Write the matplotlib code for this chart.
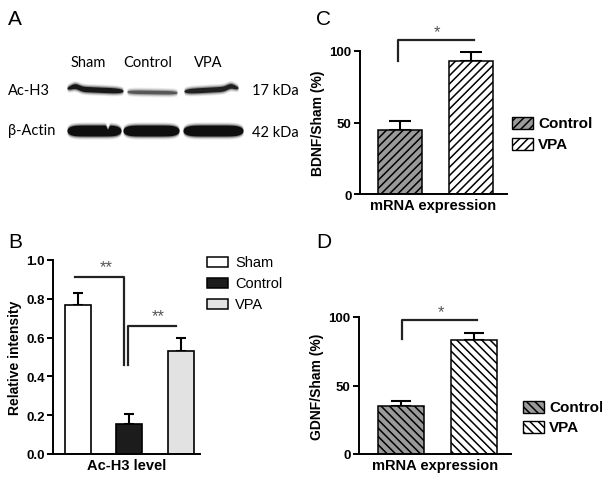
import numpy as np
import matplotlib
matplotlib.use("Agg")
import matplotlib.pyplot as plt
from matplotlib.patches import Rectangle

plt.rcParams['font.family'] = ['Liberation Sans', 'DejaVu Sans']
plt.rcParams['hatch.linewidth'] = 1.1

# ---------------- data ----------------
blot_lanes = ['Sham', 'Control', 'VPA']
blot_rows = ['Ac-H3', 'β-Actin']
blot_sizes = ['17 kDa', '42 kDa']
ach3_darkness = [0.95, 0.6, 0.9]
actin_darkness = [1.0, 1.0, 1.0]

b_groups = ['Sham', 'Control', 'VPA']
b_values = [0.77, 0.155, 0.53]
b_errors = [0.06, 0.05, 0.07]
b_yticks = [0.0, 0.2, 0.4, 0.6, 0.8, 1.0]

c_groups = ['Control', 'VPA']
c_values = [45, 93]
c_errors = [6, 6]

d_groups = ['Control', 'VPA']
d_values = [35, 83]
d_errors = [4, 5]
cd_yticks = [0, 50, 100]

W, H = 602, 481
fig = plt.figure(figsize=(W / 100, H / 100), dpi=100)


def rect(x0, y0, x1, y1):
    return [x0 / W, 1 - y1 / H, (x1 - x0) / W, (y1 - y0) / H]


# overlay axes in pixel coordinates
ov = fig.add_axes([0, 0, 1, 1], zorder=5)
ov.set_xlim(0, W)
ov.set_ylim(H, 0)
ov.axis('off')
ov.patch.set_alpha(0)

# ---------------- panel A: blot ----------------
def band(ax, cx, cy, w, h, dark, tilt=0.0, hump=0.0, hpos=0.0, notch=None):
    x = np.linspace(cx - w / 2, cx + w / 2, 400)
    u = (x - cx) / (w / 2)
    half = h / 2 * np.clip(1 - u ** 6, 0, 1) ** 0.5
    yc = cy + tilt * u + hump * np.exp(-((u - hpos) / 0.2) ** 2)
    top = yc - half
    if notch is not None:
        top = top + notch[1] * np.exp(-((u - notch[0]) / 0.05) ** 2)
    g = 0.06 + (1 - dark) * 0.7
    col = (g, g, g)
    on = (half > 0)
    for extra, a in [(3.0, 0.10), (2.0, 0.18), (1.0, 0.35), (0.0, 1.0)]:
        ax.fill_between(x, top - extra * on, yc + half + extra * on,
                        color=col, alpha=a, lw=0)


ach3_centers = [95, 152, 211]
ach3_widths = [56, 50, 54]
ach3_shape = [(1.2, -2.5, -0.72), (0.4, 0.0, 0.0), (-1.5, -2.5, 0.72)]
for i, d in enumerate(ach3_darkness):
    t, hm, hp = ach3_shape[i]
    band(ov, ach3_centers[i], 90.5 if i != 1 else 93, ach3_widths[i], 5.0 * d + 0.5, d,
         tilt=t, hump=hm, hpos=hp)

actin_centers = [94, 151, 213]
actin_widths = [54, 56, 60]
actin_notch = [(0.5, 4.0), None, None]
for i, d in enumerate(actin_darkness):
    band(ov, actin_centers[i], 131.5, actin_widths[i], 11, d, notch=actin_notch[i])

for i, lab in enumerate(blot_lanes):
    ov.text([88, 148, 208][i], 63, lab, family=['Lato', 'DejaVu Sans'], fontsize=10.5,
            ha='center', va='center')
for j, lab in enumerate(blot_rows):
    ov.text(8, [91, 131][j], lab, family=['Lato', 'DejaVu Sans'], fontsize=10.5,
            ha='left', va='center')
    ov.text(252, [91, 133][j], blot_sizes[j], family=['Lato', 'DejaVu Sans'], fontsize=10.5,
            ha='left', va='center')

# panel letters
for letter, (x, y) in zip('ABCD', [(8, 25), (8, 248), (316, 25), (316, 248)]):
    ov.text(x, y, letter, fontsize=15, ha='left', va='baseline')


def style_axes(ax):
    for s in ['top', 'right']:
        ax.spines[s].set_visible(False)
    for s in ['left', 'bottom']:
        ax.spines[s].set_linewidth(1.4)
    ax.tick_params(axis='y', direction='out', length=4, width=1.4, labelsize=9.5, pad=2)
    ax.tick_params(axis='x', length=0)
    for lab in ax.get_yticklabels():
        lab.set_fontweight('bold')


# ---------------- panel B ----------------
axB = fig.add_axes(rect(53, 261, 200, 455))
xb = np.arange(len(b_groups))
b_colors = ['white', '#1c1c1c', '#e2e2e2']
axB.errorbar(xb, b_values, yerr=[np.zeros(3), b_errors], fmt='none', ecolor='black',
             elinewidth=1.5, capsize=3.5, capthick=1.5, zorder=1)
axB.bar(xb, b_values, width=0.505, color=b_colors, edgecolor='black', linewidth=1.2, zorder=2)
axB.set_xlim(-0.485, 2.37)
axB.set_ylim(0, 1.0)
axB.set_yticks(b_yticks)
axB.set_yticklabels([f'{v:.1f}' for v in b_yticks])
axB.set_xticks([])
axB.set_ylabel('Relative intensity', fontsize=10, fontweight='bold', labelpad=3)
axB.set_xlabel('Ac-H3 level', fontsize=10.5, fontweight='bold', labelpad=3)
style_axes(axB)
# significance brackets
axB.plot([xb[0] - 0.05, xb[1] - 0.1, xb[1] - 0.1], [0.91, 0.91, 0.46], color='#222222',
         lw=1.6, clip_on=False, zorder=3)
axB.plot([xb[1] - 0.02, xb[1] - 0.02, xb[2] - 0.1], [0.46, 0.66, 0.66], color='#222222',
         lw=1.6, clip_on=False, zorder=3)
axB.text((xb[0] + xb[1]) / 2 + 0.05, 0.925, '**', fontsize=12, color='#555555', ha='center',
         va='bottom')
axB.text((xb[1] + xb[2]) / 2 + 0.05, 0.675, '**', fontsize=12, color='#555555', ha='center',
         va='bottom')

# legend B
for k, g in enumerate(b_groups):
    y = [263, 284, 305][k]
    ov.add_patch(Rectangle((207, y - 5), 21, 10, facecolor=b_colors[k], edgecolor='black', lw=1.1))
    ov.text(235, y, g, fontsize=10.5, ha='left', va='center')


# ---------------- panels C and D ----------------
def cd_panel(box, vals, errs, groups, hatch, ylabel, width, xlim, cap, bracket, legend_pos):
    ax = fig.add_axes(rect(*box))
    x = np.arange(len(groups))
    cols = ['#9a9a9a', 'white']
    ax.errorbar(x, vals, yerr=[np.zeros(len(x)), errs], fmt='none', ecolor='black',
                elinewidth=1.5, capsize=cap, capthick=1.5, zorder=1)
    ax.bar(x, vals, width=width, color=cols, edgecolor='black', linewidth=1.1, hatch=hatch,
           zorder=2)
    ax.set_xlim(*xlim)
    ax.set_ylim(0, 100)
    ax.set_yticks(cd_yticks)
    ax.set_xticks([])
    ax.set_ylabel(ylabel, fontsize=10, fontweight='bold', labelpad=3)
    ax.set_xlabel('mRNA expression', fontsize=10.5, fontweight='bold', labelpad=3)
    style_axes(ax)
    bx0, bx1, by, bdown, sy = bracket
    ax.plot([bx0, bx0, bx1], [bdown, by, by], color='#222222', lw=1.6, clip_on=False, zorder=3)
    ax.text((bx0 + bx1) / 2 + 0.02, sy, '*', fontsize=12, color='#555555', ha='center',
            va='bottom', clip_on=False)
    lx, ly = legend_pos
    for k, g in enumerate(groups):
        y = ly[k]
        ov.add_patch(Rectangle((lx, y - 6), 21, 12, facecolor=cols[k], edgecolor='black',
                               lw=1.0, hatch=hatch))
        ov.text(lx + 26, y, g, fontsize=11, fontweight='bold', ha='left', va='center')
    return ax


cd_panel((360, 52, 507, 195), c_values, c_errors, c_groups, '////', 'BDNF/Sham (%)',
         0.62, (-0.563, 1.507), 8.0, (-0.03, 1.04, 107.5, 93, 108.5), (512, [124, 145]))
cd_panel((359, 318, 511, 455), d_values, d_errors, d_groups, '\\\\\\\\', 'GDNF/Sham (%)',
         0.63, (-0.575, 1.507), 7.0, (0.02, 1.04, 97.5, 84, 98.5), (523, [408, 428]))

fig.savefig('out.png', dpi=100)
